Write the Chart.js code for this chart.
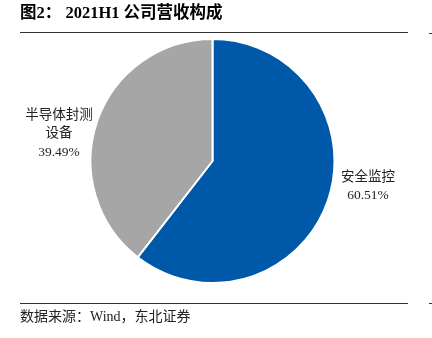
<!DOCTYPE html>
<html>
<head>
<meta charset="utf-8">
<script src="https://cdn.jsdelivr.net/npm/chart.js@4"></script>
<style>
  html, body { margin: 0; padding: 0; background: #fff; }
  #wrap { position: relative; width: 432px; height: 338px; }
</style>
</head>
<body>
<div id="wrap"><canvas id="chart" width="432" height="338"></canvas></div>
<script>
// Chart data
const categories = ['安全监控', '半导体封测设备'];
const shares = [60.51, 39.49];
const labelLines = [['安全监控', '60.51%'], ['半导体封测', '设备', '39.49%']];
const titleText = '图2： 2021H1 公司营收构成';
const sourceText = '数据来源：Wind，东北证券';

const SERIF = '"Liberation Serif", "Noto Sans CJK SC", serif';

// Title, rules, source and slice labels
const decorPlugin = {
  id: 'decor',
  afterDraw(chart) {
    const ctx = chart.ctx;
    ctx.save();
    // title
    ctx.fillStyle = '#000';
    ctx.textBaseline = 'middle';
    ctx.textAlign = 'left';
    ctx.font = 'bold 16.5px ' + SERIF;
    ctx.fillText(titleText, 20, 14);
    // rules
    ctx.strokeStyle = '#333';
    ctx.lineWidth = 1.2;
    ctx.beginPath();
    ctx.moveTo(20, 32.5); ctx.lineTo(408, 32.5);
    ctx.moveTo(20, 303.5); ctx.lineTo(408, 303.5);
    ctx.moveTo(429, 33.5); ctx.lineTo(432, 33.5);
    ctx.moveTo(429, 303.5); ctx.lineTo(432, 303.5);
    ctx.stroke();
    // source
    ctx.font = '14px ' + SERIF;
    ctx.fillStyle = '#222';
    ctx.fillText(sourceText, 20, 317);
    // slice labels
    ctx.textAlign = 'center';
    ctx.font = '13.5px ' + SERIF;
    const meta = chart.getDatasetMeta(0);
    const spots = [{ x: 368, y: 177 }, { x: 59, y: 115 }];
    meta.data.forEach((arc, i) => {
      const lines = labelLines[i];
      lines.forEach((t, j) => {
        ctx.fillText(t, spots[i].x, spots[i].y + j * 18.5);
      });
    });
    ctx.restore();
  }
};

new Chart(document.getElementById('chart'), {
  type: 'pie',
  data: {
    labels: categories,
    datasets: [{
      data: shares,
      backgroundColor: ['#0058A9', '#A6A6A6'],
      borderColor: '#ffffff',
      borderWidth: 2,
    }],
  },
  options: {
    responsive: false,
    animation: false,
    layout: {
      padding: { top: 38, bottom: 54, left: 89, right: 96 },
    },
    plugins: {
      legend: { display: false },
      tooltip: { enabled: false },
    },
  },
  plugins: [decorPlugin],
});
</script>
</body>
</html>
